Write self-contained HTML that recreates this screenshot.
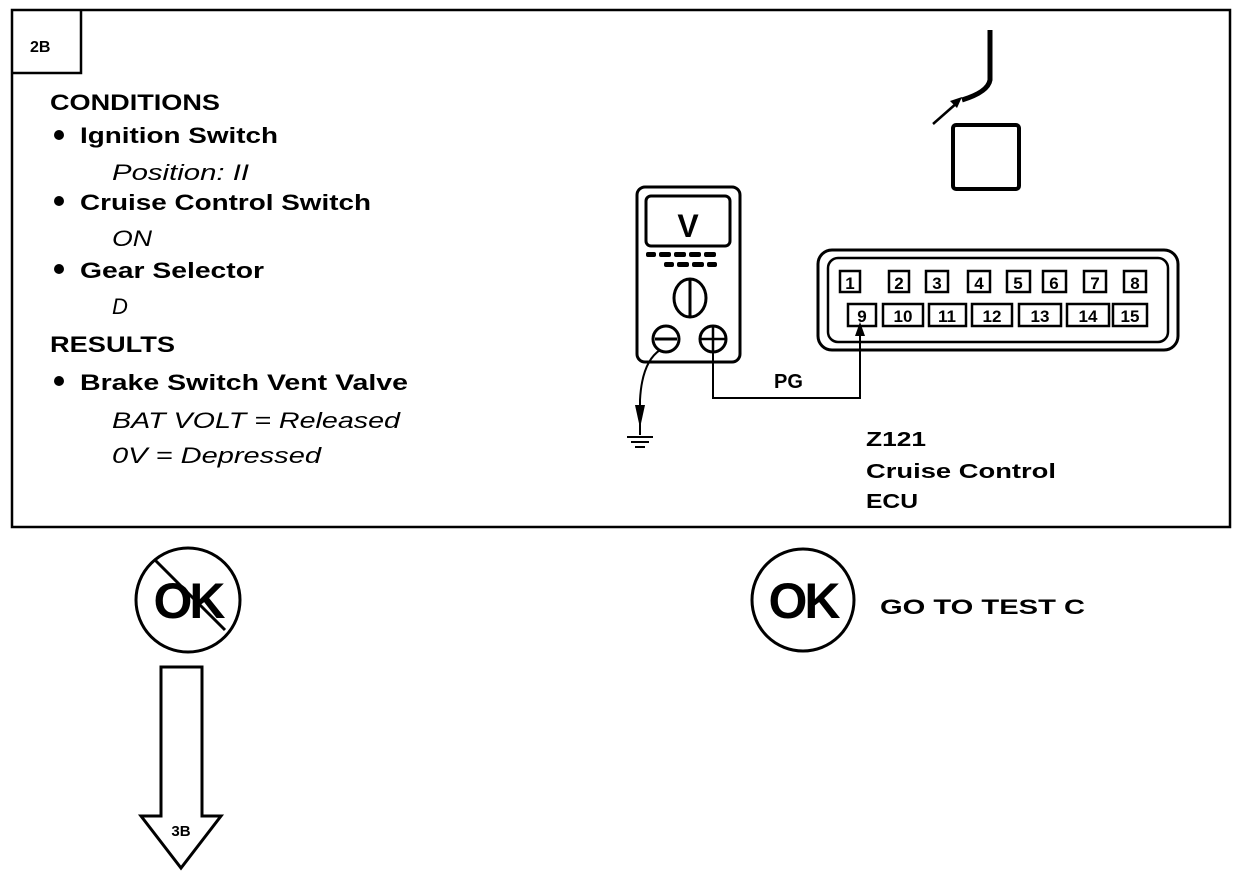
<!DOCTYPE html>
<html><head><meta charset="utf-8"><style>
html,body{margin:0;padding:0;background:#fff;}
svg{display:block;}
text{font-family:"Liberation Sans",Arial,sans-serif;fill:#000;}
.b{font-weight:bold;font-size:22px;}
.i{font-style:italic;font-size:22px;}
</style></head><body>
<svg width="1248" height="876" viewBox="0 0 1248 876" xmlns="http://www.w3.org/2000/svg">
<rect x="12" y="10" width="1218" height="517" fill="none" stroke="#000" stroke-width="2.5"/>
<path d="M13 73 H81 V11" fill="none" stroke="#000" stroke-width="2.5"/>
<text x="30" y="52" class="b" style="font-size:16px">2B</text>

<text x="50" y="110" class="b" textLength="170" lengthAdjust="spacingAndGlyphs">CONDITIONS</text>
<circle cx="59" cy="135" r="5"/>
<text x="80" y="143" class="b" textLength="198" lengthAdjust="spacingAndGlyphs">Ignition Switch</text>
<text x="112" y="180" class="i" textLength="137" lengthAdjust="spacingAndGlyphs">Position: II</text>
<circle cx="59" cy="201" r="5"/>
<text x="80" y="210" class="b" textLength="291" lengthAdjust="spacingAndGlyphs">Cruise Control Switch</text>
<text x="112" y="246" class="i" textLength="40" lengthAdjust="spacingAndGlyphs">ON</text>
<circle cx="59" cy="269" r="5"/>
<text x="80" y="278" class="b" textLength="184" lengthAdjust="spacingAndGlyphs">Gear Selector</text>
<text x="112" y="314" class="i">D</text>
<text x="50" y="352" class="b" textLength="125" lengthAdjust="spacingAndGlyphs">RESULTS</text>
<circle cx="59" cy="381" r="5"/>
<text x="80" y="390" class="b" textLength="328" lengthAdjust="spacingAndGlyphs">Brake Switch Vent Valve</text>
<text x="112" y="428" class="i" textLength="288" lengthAdjust="spacingAndGlyphs">BAT VOLT =  Released</text>
<text x="112" y="463" class="i" textLength="209" lengthAdjust="spacingAndGlyphs">0V =  Depressed</text>

<!-- wire and square -->
<path d="M990 30 V80 Q988 92 962 100" fill="none" stroke="#000" stroke-width="5"/>
<path d="M933 124 L958 102" stroke="#000" stroke-width="2.5"/>
<path d="M962 97 L950 101 L957 108 Z"/>
<rect x="953" y="125" width="66" height="64" rx="3" fill="none" stroke="#000" stroke-width="4"/>

<!-- multimeter -->
<rect x="637" y="187" width="103" height="175" rx="8" fill="none" stroke="#000" stroke-width="3"/>
<rect x="646" y="196" width="84" height="50" rx="5" fill="none" stroke="#000" stroke-width="3"/>
<text x="688" y="237" class="b" text-anchor="middle" style="font-size:32px">V</text>
<g fill="#000">
<rect x="646" y="252" width="10" height="5" rx="2"/><rect x="659" y="252" width="12" height="5" rx="2"/><rect x="674" y="252" width="12" height="5" rx="2"/><rect x="689" y="252" width="12" height="5" rx="2"/><rect x="704" y="252" width="12" height="5" rx="2"/>
<rect x="664" y="262" width="10" height="5" rx="2"/><rect x="677" y="262" width="12" height="5" rx="2"/><rect x="692" y="262" width="12" height="5" rx="2"/><rect x="707" y="262" width="10" height="5" rx="2"/>
</g>
<ellipse cx="690" cy="298" rx="16" ry="19" fill="none" stroke="#000" stroke-width="3"/>
<line x1="690" y1="280" x2="690" y2="316" stroke="#000" stroke-width="3"/>
<circle cx="666" cy="339" r="13" fill="none" stroke="#000" stroke-width="3"/>
<line x1="655" y1="339" x2="677" y2="339" stroke="#000" stroke-width="3"/>
<circle cx="713" cy="339" r="13" fill="none" stroke="#000" stroke-width="3"/>
<line x1="700" y1="339" x2="726" y2="339" stroke="#000" stroke-width="2.5"/>
<line x1="713" y1="326" x2="713" y2="352" stroke="#000" stroke-width="2.5"/>
<path d="M660 350 Q642 362 640 400 V435" fill="none" stroke="#000" stroke-width="2"/>
<path d="M635 405 L645 405 L640 428 Z"/>
<line x1="627" y1="437" x2="653" y2="437" stroke="#000" stroke-width="2"/>
<line x1="631" y1="442" x2="649" y2="442" stroke="#000" stroke-width="2"/>
<line x1="635" y1="447" x2="645" y2="447" stroke="#000" stroke-width="2"/>
<path d="M713 352 V398 H860 V330" fill="none" stroke="#000" stroke-width="2"/>
<path d="M855 336 L865 336 L860 322 Z"/>
<text x="774" y="388" class="b" style="font-size:20px">PG</text>

<!-- connector -->
<rect x="818" y="250" width="360" height="100" rx="14" fill="none" stroke="#000" stroke-width="3"/>
<rect x="828" y="258" width="340" height="84" rx="10" fill="none" stroke="#000" stroke-width="2.5"/>
<g fill="none" stroke="#000" stroke-width="2.5">
<rect x="840" y="271" width="20" height="21"/><rect x="889" y="271" width="20" height="21"/><rect x="926" y="271" width="22" height="21"/><rect x="968" y="271" width="22" height="21"/><rect x="1007" y="271" width="23" height="21"/><rect x="1043" y="271" width="23" height="21"/><rect x="1084" y="271" width="22" height="21"/><rect x="1124" y="271" width="22" height="21"/>
<rect x="848" y="304" width="28" height="22"/><rect x="883" y="304" width="40" height="22"/><rect x="929" y="304" width="37" height="22"/><rect x="972" y="304" width="40" height="22"/><rect x="1019" y="304" width="42" height="22"/><rect x="1067" y="304" width="42" height="22"/><rect x="1113" y="304" width="34" height="22"/>
</g>
<g text-anchor="middle">
<text x="850" y="289" class="b" style="font-size:17px">1</text><text x="899" y="289" class="b" style="font-size:17px">2</text><text x="937" y="289" class="b" style="font-size:17px">3</text><text x="979" y="289" class="b" style="font-size:17px">4</text><text x="1018" y="289" class="b" style="font-size:17px">5</text><text x="1054" y="289" class="b" style="font-size:17px">6</text><text x="1095" y="289" class="b" style="font-size:17px">7</text><text x="1135" y="289" class="b" style="font-size:17px">8</text>
<text x="862" y="322" class="b" style="font-size:17px">9</text><text x="903" y="322" class="b" style="font-size:17px">10</text><text x="947" y="322" class="b" style="font-size:17px">11</text><text x="992" y="322" class="b" style="font-size:17px">12</text><text x="1040" y="322" class="b" style="font-size:17px">13</text><text x="1088" y="322" class="b" style="font-size:17px">14</text><text x="1130" y="322" class="b" style="font-size:17px">15</text>
</g>
<text x="866" y="446" class="b" style="font-size:20px" textLength="60" lengthAdjust="spacingAndGlyphs">Z121</text>
<text x="866" y="478" class="b" style="font-size:20px" textLength="190" lengthAdjust="spacingAndGlyphs">Cruise Control</text>
<text x="866" y="508" class="b" style="font-size:20px" textLength="52" lengthAdjust="spacingAndGlyphs">ECU</text>

<!-- OK circles -->
<circle cx="188" cy="600" r="52" fill="none" stroke="#000" stroke-width="3"/>
<text x="188" y="618" class="b" text-anchor="middle" style="font-size:50px;letter-spacing:-3px">OK</text>
<line x1="155" y1="560" x2="225" y2="630" stroke="#000" stroke-width="3"/>
<circle cx="803" cy="600" r="51" fill="none" stroke="#000" stroke-width="3"/>
<text x="803" y="618" class="b" text-anchor="middle" style="font-size:50px;letter-spacing:-3px">OK</text>
<text x="880" y="614" class="b" style="font-size:21px" textLength="205" lengthAdjust="spacingAndGlyphs">GO TO TEST C</text>

<!-- arrow -->
<path d="M161 667 H202 V816 H221 L181 868 L141 816 H161 Z" fill="none" stroke="#000" stroke-width="3"/>
<text x="181" y="836" class="b" text-anchor="middle" style="font-size:15px">3B</text>
</svg>
</body></html>
